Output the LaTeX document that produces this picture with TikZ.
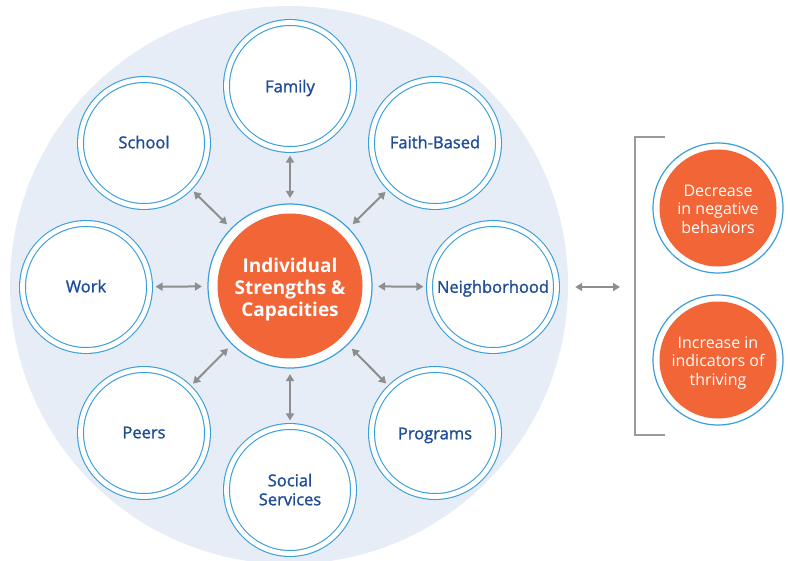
\documentclass[tikz,border=0pt]{standalone}
\usepackage{fontspec}
\setmainfont{Open Sans}
\newfontfamily\semib[FakeBold=1.3]{Open Sans}
\usetikzlibrary{arrows.meta}
\definecolor{bgblue}{HTML}{E7EDF7}
\definecolor{ringblue}{HTML}{3A9FD9}
\definecolor{textblue}{HTML}{1E4C96}
\definecolor{orng}{HTML}{F26537}
\definecolor{arrowgray}{HTML}{8E8E8E}
\definecolor{brgray}{HTML}{9A9A9A}
\newcommand{\lowr}[2]{\raisebox{-#1}[\height][\depth]{\begin{tabular}{@{}c@{}}#2\end{tabular}}}
\tikzset{
  sat/.style={circle, fill=white, draw=ringblue, double=white, double distance=4.8pt,
    line width=1.1pt, minimum size=127pt, inner sep=0pt, text=textblue,
    font=\semib\fontsize{16.5}{19}\selectfont},
  core/.style={circle, fill=white, draw=ringblue, line width=1.2pt, minimum size=164pt,
    inner sep=0pt, text=white, font=\bfseries\fontsize{19}{22}\selectfont,
    path picture={\fill[orng] (path picture bounding box.center) circle (72.5pt);}},
  outc/.style={circle, fill=white, draw=ringblue, line width=1.2pt, minimum size=130pt,
    inner sep=0pt, text=white, font=\fontsize{16}{18.5}\selectfont,
    path picture={\fill[orng] (path picture bounding box.center) circle (58.5pt);}},
  arr/.style={{Triangle[length=7pt,width=8pt]}-{Triangle[length=7pt,width=8pt]},
    draw=arrowgray, line width=2pt, shorten >=5.5pt, shorten <=5.5pt},
  bgdisc/.style={circle, fill=bgblue, minimum size=558pt, inner sep=0pt},
  brk/.style={draw=brgray, line width=1.5pt}
}
\begin{document}
\begin{tikzpicture}[x=1pt,y=-1pt]
\useasboundingbox (0,0) rectangle (791,561);
\clip (0,0) rectangle (791,561);
\node[bgdisc] (bg) at (289,285) {};
\node[core] (c) at (290,286) {\lowr{4pt}{Individual\\Strengths \&\\Capacities}};
\node[sat] (family) at (290,86) {\lowr{2.5pt}{Family}};
\node[sat] (school) at (144,143) {\lowr{1.5pt}{School}};
\node[sat] (faith) at (435,143) {\lowr{1.5pt}{Faith-Based}};
\node[sat] (work) at (86,287) {\lowr{1.5pt}{Work}};
\node[sat] (neigh) at (493,287) {\lowr{2pt}{Neighborhood}};
\node[sat] (peers) at (144,433) {\lowr{1.5pt}{Peers}};
\node[sat] (prog) at (435,433) {\lowr{2.5pt}{Programs}};
\node[sat] (social) at (290,490) {\lowr{2pt}{Social\\Services}};
\foreach \s in {family,school,faith,work,neigh,peers,prog,social}
  \draw[arr] (c) -- (\s);
\coordinate (bt) at (665,137);
\coordinate (bb) at (665,435);
\coordinate (bm) at (635,287);
\coordinate (be) at (bg.east |- bm);
\draw[brk] (bt) -- (635,137) -- (635,435) -- (bb);
\draw[arr, shorten <=7pt, shorten >=15pt] (be) -- (bm);
\node[outc] (dec) at (718,208) {\lowr{3pt}{Decrease\\in negative\\behaviors}};
\node[outc] (inc) at (718,360) {\lowr{3pt}{Increase in\\indicators of\\thriving}};
\end{tikzpicture}
\end{document}
